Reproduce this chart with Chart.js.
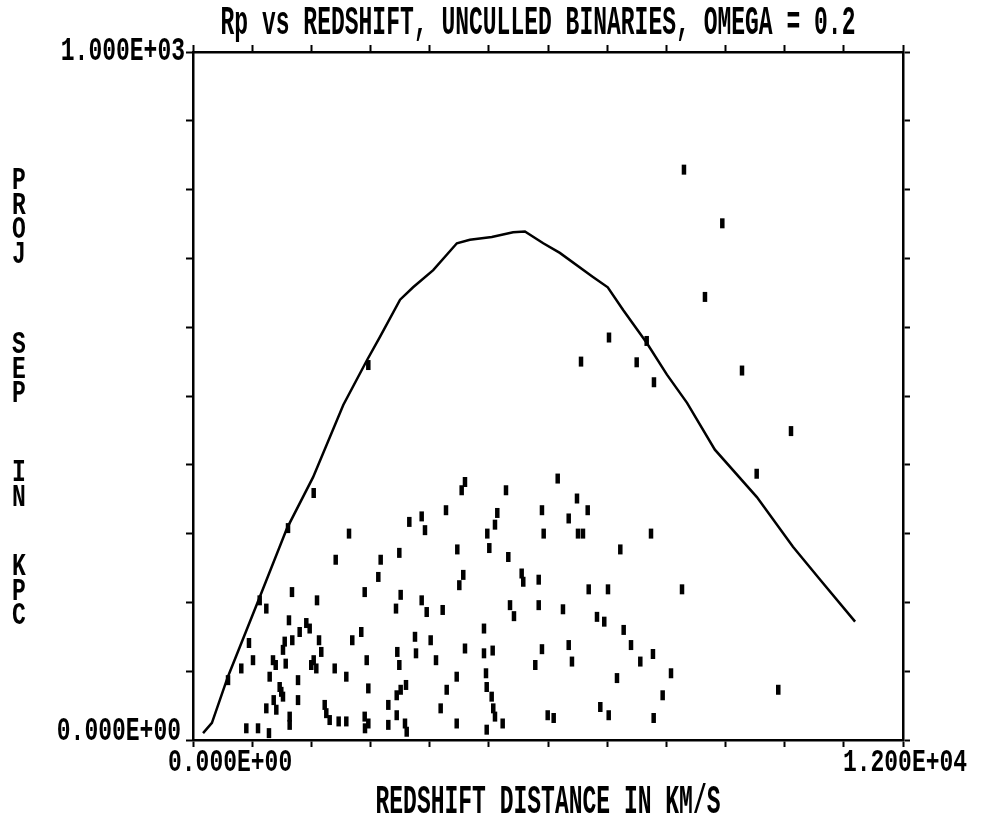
<!DOCTYPE html>
<html>
<head>
<meta charset="utf-8">
<script src="https://cdn.jsdelivr.net/npm/chart.js@4.4.1/dist/chart.umd.min.js"></script>
<style>
html, body { margin: 0; padding: 0; background: #fff; }
canvas { display: block; }
</style>
</head>
<body>
<canvas id="chart" width="1004" height="825"></canvas>
<script>
const titleText = 'Rp vs REDSHIFT, UNCULLED BINARIES, OMEGA = 0.2';
const xTitle = 'REDSHIFT DISTANCE IN KM/S';
const yTitleWords = ['PROJ', 'SEP', 'IN', 'KPC'];
const xTickLabels = ['0.000E+00', '1.200E+04'];
const yTickLabels = ['0.000E+00', '1.000E+03'];

// envelope curve (km/s, kpc)
const curveX = [170, 320, 590, 1120, 1590, 2030, 2540, 2940, 3160, 3500, 3720, 4060, 4460, 4680, 5050, 5410, 5610,
                5920, 6200, 6760, 7010, 7270, 7670, 8010, 8350, 8820, 9530, 10140, 10600, 11190];
const curveY = [10, 25, 92, 206, 308, 382, 487, 552, 586, 640, 658, 683, 722, 727, 731, 738, 739,
                722, 708, 673, 658, 625, 577, 531, 490, 422, 353, 281, 233, 172];

// binaries
const binX = [2040, 1606, 2637, 2412, 1673, 1127, 1239, 2096, 2902, 1622, 1915, 1972, 1803, 2844, 2130, 1678, 1550, 946,
              2692, 1521, 2168, 1014, 1352, 1398, 1567, 2040, 1999, 2084, 816, 2395, 2591, 1296, 1775, 592, 1465, 1492,
              1521, 1364, 1775, 1239, 1408, 2226, 2253, 1634, 1634, 2310, 2462, 2591, 2902, 901, 1099, 1284, 2963,
              4541, 4597, 5290, 4276, 3656, 3865, 3921, 5143, 5104, 4974, 5008, 3487, 4467, 5329, 3172, 3132, 5555,
              5582, 4568, 4501, 3510, 3431, 3865, 3950, 4220, 5358, 5425, 3752, 4017, 4918, 3453, 3487, 3769, 4107,
              4597, 4918, 5065, 2936, 4952, 4964, 4457, 4288, 3600, 3510, 3443, 2963, 5048, 5075, 5104, 5234, 3301,
              3443, 3301, 3583, 3612, 4186, 4457, 4964, 2963, 2907,
              6164, 6490, 5898, 6671, 6350, 5927, 6507, 6591, 7741, 7222, 5843, 6688, 7014, 8265, 5843, 6253, 6828,
              6951, 7279, 5898, 6350, 7403, 7774, 5785, 6405, 7560, 8079, 7166, 7938, 5995, 6096, 6884, 7026, 7786,
              8298, 8946, 8653, 7031, 7668, 6558, 7499, 7791, 9279, 10107, 9527, 9892];
const binY = [359, 308, 300, 262, 215, 203, 191, 203, 215, 174, 170, 162, 157, 157, 145, 145, 143, 141,
              145, 131, 128, 116, 116, 109, 111, 116, 109, 104, 104, 104, 92, 92, 87, 87, 77, 70,
              63, 58, 58, 46, 44, 51, 39, 34, 22, 29, 27, 27, 34, 17, 17, 10, 545,
              363, 375, 363, 334, 317, 325, 305, 330, 313, 300, 279, 272, 277, 266, 262, 237, 242,
              230, 240, 225, 211, 191, 203, 186, 189, 196, 180, 150, 145, 162, 128, 109, 126, 116,
              133, 126, 130, 116, 97, 77, 92, 73, 80, 73, 65, 75, 63, 46, 34, 24, 51,
              36, 22, 24, 12, 46, 24, 15, 24, 17,
              380, 351, 334, 334, 322, 300, 300, 300, 300, 277, 233, 219, 219, 219, 196, 190, 179,
              172, 160, 132, 138, 138, 125, 109, 114, 114, 97, 90, 65, 36, 32, 48, 36, 32,
              829, 751, 644, 585, 580, 550, 549, 520, 537, 449, 387, 73];

const FONT = 'bold 23px "Liberation Mono", "DejaVu Sans Mono", monospace';

// tall narrow plotter lettering
function plotterText(ctx, s, x, y, align, stretch) {
    ctx.save();
    ctx.translate(x, y);
    ctx.scale(1, stretch);
    ctx.font = FONT;
    ctx.textAlign = align;
    ctx.textBaseline = 'middle';
    ctx.fillStyle = '#000';
    ctx.fillText(s, 0, 0);
    ctx.restore();
}

const textPlugin = {
    id: 'plotterText',
    afterDraw(chart) {
        const ctx = chart.ctx, a = chart.chartArea;
        const xs = chart.scales.x, ys = chart.scales.y;
        plotterText(ctx, titleText, 538, 24, 'center', 1.8);
        plotterText(ctx, xTitle, (a.left + a.right) / 2, 803, 'center', 1.8);
        plotterText(ctx, yTickLabels[1], a.left - 8, ys.getPixelForValue(1000), 'right', 1.45);
        plotterText(ctx, yTickLabels[0], a.left - 12, ys.getPixelForValue(0) - 8, 'right', 1.45);
        plotterText(ctx, xTickLabels[0], xs.getPixelForValue(0) - 25, a.bottom + 23, 'left', 1.35);
        plotterText(ctx, xTickLabels[1], xs.getPixelForValue(12000) + 2, a.bottom + 23, 'center', 1.35);
        const starts = [181, 345, 473, 567];
        yTitleWords.forEach((w, k) => {
            [...w].forEach((ch, i) => plotterText(ctx, ch, 19, starts[k] + i * 24.5, 'center', 1.4));
        });
    }
};

function axis(position, min, max, step) {
    return {
        type: 'linear', position, min, max,
        ticks: { display: false, stepSize: step },
        grid: { drawOnChartArea: false, drawTicks: true, tickLength: 7, tickWidth: 2, tickColor: '#000' },
        border: { display: true, color: '#000', width: 2.5 }
    };
}

new Chart(document.getElementById('chart'), {
    type: 'scatter',
    data: {
        datasets: [
            {
                label: 'envelope',
                data: curveX.map((x, i) => ({x, y: curveY[i]})),
                showLine: true, borderColor: '#000', borderWidth: 2.5,
                pointRadius: 0, tension: 0, fill: false
            },
            {
                label: 'binaries',
                data: binX.map((x, i) => ({x, y: binY[i]})),
                pointStyle: 'line', rotation: 90, pointRadius: 5,
                borderColor: '#000', backgroundColor: '#000', borderWidth: 4.5
            }
        ]
    },
    options: {
        responsive: false,
        animation: false,
        devicePixelRatio: 1,
        events: [],
        layout: { padding: { left: 186, top: 45, right: 94, bottom: 78 } },
        plugins: { legend: { display: false }, tooltip: { enabled: false } },
        scales: {
            x: axis('bottom', 0, 12000, 1000),
            x2: axis('top', 0, 12000, 1000),
            y: axis('left', 0, 1000, 100),
            y2: axis('right', 0, 1000, 100)
        }
    },
    plugins: [textPlugin]
});
</script>
</body>
</html>
